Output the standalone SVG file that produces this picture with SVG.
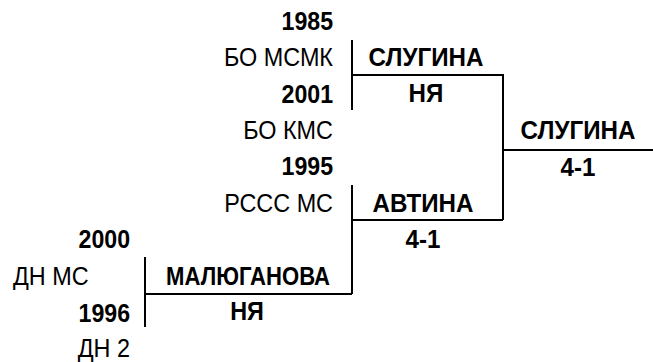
<svg xmlns="http://www.w3.org/2000/svg" width="653" height="362" viewBox="0 0 653 362">
<style>
text{font-family:"Liberation Sans",Arial,sans-serif;font-size:26px;fill:#000}
.b{font-weight:bold}
.r{text-anchor:end}
.c{text-anchor:middle}
.ln{stroke:#000;stroke-width:2;fill:none}
</style>
<rect width="653" height="362" fill="#fff"/>
<g id="connectors">
<path class="ln" d="M352,40V110M352,75H503V220M352,220H503M352,185V294M145,294H352M145,257V327"/>
<path class="ln" d="M503,150H653" stroke-width="3"/>
</g>
<g id="entrant-slugina">
<text class="b r" transform="translate(333,30) scale(0.89,1)">1985</text>
<text class="r" transform="translate(333,66) scale(0.9,1)">БО МСМК</text>
</g>
<g id="entrant-2001">
<text class="b r" transform="translate(333,103) scale(0.89,1)">2001</text>
<text class="r" transform="translate(333,139) scale(0.9,1)">БО КМС</text>
</g>
<g id="entrant-avtina">
<text class="b r" transform="translate(333,175) scale(0.89,1)">1995</text>
<text class="r" transform="translate(333,212) scale(0.9,1)">РССС МС</text>
</g>
<g id="entrant-2000">
<text class="b r" transform="translate(130,248) scale(0.89,1)">2000</text>
<text transform="translate(13,285) scale(0.9,1)">ДН МС</text>
</g>
<g id="entrant-1996">
<text class="b r" transform="translate(130,322) scale(0.89,1)">1996</text>
<text class="r" transform="translate(130,357) scale(0.9,1)">ДН 2</text>
</g>
<g id="match1">
<text class="b c" transform="translate(426,66) scale(0.93,1)">СЛУГИНА</text>
<text class="b c" transform="translate(426,102) scale(0.93,1)">НЯ</text>
</g>
<g id="final">
<text class="b c" transform="translate(578,139) scale(0.93,1)">СЛУГИНА</text>
<text class="b c" transform="translate(578,176) scale(0.93,1)">4-1</text>
</g>
<g id="match2">
<text class="b c" transform="translate(423,212) scale(0.93,1)">АВТИНА</text>
<text class="b c" transform="translate(423,248) scale(0.93,1)">4-1</text>
</g>
<g id="match3">
<text class="b c" transform="translate(248,285) scale(0.85,1)">МАЛЮГАНОВА</text>
<text class="b c" transform="translate(247,320) scale(0.9,1)">НЯ</text>
</g>
</svg>
